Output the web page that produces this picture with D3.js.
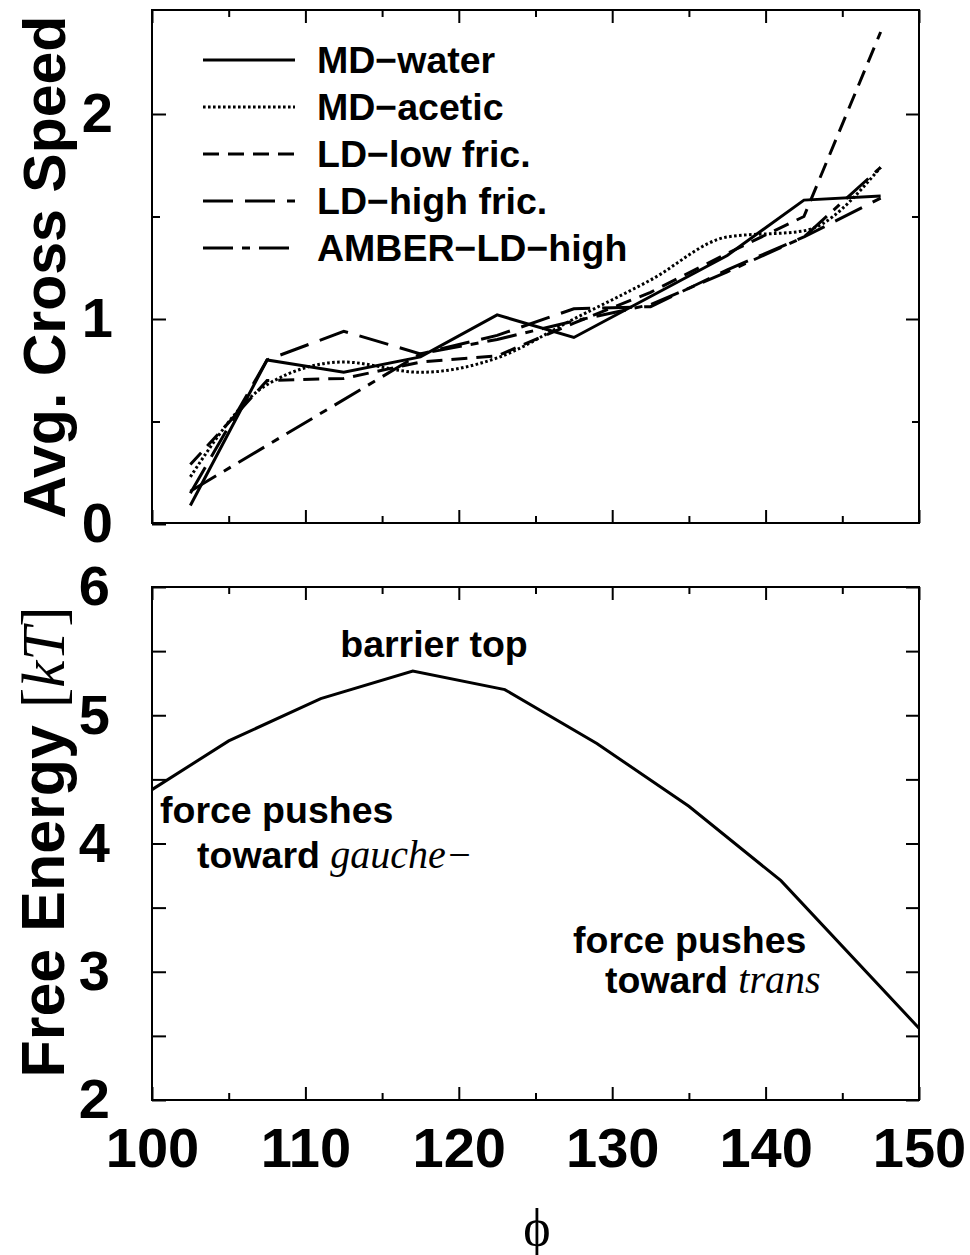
<!DOCTYPE html>
<html><head><meta charset="utf-8">
<script src="https://cdn.jsdelivr.net/npm/d3@7"></script>
<style>
body{margin:0;background:#fff;}
svg{display:block;}
</style></head>
<body>
<svg id="chart" width="970" height="1255"></svg>
<script>
// ---------- data ----------
const phiTop = [102.5,107.5,112.5,117.5,122.5,127.5,132.5,137.5,142.5,147.5];
const mdWater  = [0.09,0.80,0.74,0.815,1.02,0.91,1.11,1.31,1.58,1.60];
const mdAcetic = [0.23,0.68,0.79,0.74,0.81,1.00,1.19,1.40,1.43,1.74];
const ldLow    = [0.29,0.70,0.71,0.79,0.82,0.98,1.13,1.32,1.50,2.40];
const ldHigh   = [0.15,0.80,0.94,0.83,0.92,1.05,1.06,1.24,1.40,1.59];
const amberLD  = [0.16,null,null,0.83,0.90,0.99,1.07,1.23,1.40,1.74];
const seriesNames = ["MD\u2212water","MD\u2212acetic","LD\u2212low fric.","LD\u2212high fric.","AMBER\u2212LD\u2212high"];

const phiBot = [100,105,111,117,123,129,135,141,150];
const freeEnergy = [4.42,4.80,5.13,5.345,5.20,4.78,4.29,3.71,2.56];

const xTicksMajor = [100,110,120,130,140,150];
const xTicksMinor = [105,115,125,135,145];
const yTopMajor = [0,1,2];
const yTopMinor = [0.5,1.5];
const yBotTicks = [2,3,4,5,6];
const yBotMinor = [2.5,3.5,4.5,5.5];

// ---------- layout ----------
const L = 152, R = 919;
const topT = 10, topB = 523, botT = 587, botB = 1100;
const svg = d3.select("#chart");
svg.append("rect").attr("width",970).attr("height",1255).attr("fill","#fff");

const x = d3.scaleLinear().domain([100,150]).range([L,R]);
const yT = d3.scaleLinear().domain([0,2.5]).range([topB+1,topT+1.5]);
const yB = d3.scaleLinear().domain([2,6]).range([botB,botT]);

const SANS = "'Liberation Sans', Arial, Helvetica, sans-serif";
const SERIF = "'Liberation Serif', 'Times New Roman', serif";

function styleAxis(g){
  g.select(".domain").remove();
  g.selectAll(".tick line").attr("stroke","#000").attr("stroke-width",2);
  g.selectAll("text").attr("fill","#000").attr("font-family",SANS).attr("font-weight","bold").attr("font-size",56);
}
function ticksOnly(axis, vals, size){
  return axis.tickValues(vals).tickSize(-size).tickFormat(()=>"");
}

// ---------- top panel ----------
svg.append("g").attr("transform",`translate(0,${topB})`).call(ticksOnly(d3.axisBottom(x),xTicksMajor,13)).call(styleAxis);
svg.append("g").attr("transform",`translate(0,${topB})`).call(ticksOnly(d3.axisBottom(x),xTicksMinor,7)).call(styleAxis);
svg.append("g").attr("transform",`translate(0,${topT})`).call(ticksOnly(d3.axisTop(x),xTicksMajor,13)).call(styleAxis);
svg.append("g").attr("transform",`translate(0,${topT})`).call(ticksOnly(d3.axisTop(x),xTicksMinor,7)).call(styleAxis);
svg.append("g").attr("transform",`translate(${L},0)`)
  .call(d3.axisLeft(yT).tickValues(yTopMajor).tickSize(-14).tickPadding(39).tickFormat(d3.format("d"))).call(styleAxis);
svg.append("g").attr("transform",`translate(${L},0)`).call(ticksOnly(d3.axisLeft(yT),yTopMinor,8)).call(styleAxis);
svg.append("g").attr("transform",`translate(${R},0)`).call(ticksOnly(d3.axisRight(yT),yTopMajor.filter(v=>v>0),13)).call(styleAxis);
svg.append("g").attr("transform",`translate(${R},0)`).call(ticksOnly(d3.axisRight(yT),yTopMinor,7)).call(styleAxis);

svg.append("rect").attr("x",L).attr("y",topT).attr("width",R-L).attr("height",topB-topT)
  .attr("fill","none").attr("stroke","#000").attr("stroke-width",2);

const styles = [
  {dash:null, w:3, curve:d3.curveLinear},
  {dash:"2.6,2.4", w:3, curve:d3.curveMonotoneX},
  {dash:"16,9", w:3, curve:d3.curveLinear},
  {dash:"30,12", w:3, curve:d3.curveLinear},
  {dash:"30,9,8,9", w:3, curve:d3.curveLinear}
];
const allSeries = [mdWater, mdAcetic, ldLow, ldHigh, amberLD];

allSeries.forEach((vals,i)=>{
  const pts = phiTop.map((p,j)=>({p, v:vals[j]})).filter(d=>d.v!==null);
  const line = d3.line().x(d=>x(d.p)).y(d=>yT(d.v)).curve(styles[i].curve);
  svg.append("path").datum(pts).attr("d",line).attr("fill","none")
    .attr("stroke","#000").attr("stroke-width",styles[i].w)
    .attr("stroke-dasharray",styles[i].dash).attr("stroke-linejoin","miter");
});

// legend
const legY = [60,107,154,201,248];
seriesNames.forEach((name,i)=>{
  svg.append("line").attr("x1",203).attr("x2",295).attr("y1",legY[i]).attr("y2",legY[i])
    .attr("stroke","#000").attr("stroke-width",3).attr("stroke-dasharray",styles[i].dash);
  svg.append("text").attr("x",317).attr("y",legY[i]+13).text(name)
    .attr("font-family",SANS).attr("font-weight","bold").attr("font-size",37.5);
});

// y title top
svg.append("text").attr("transform","translate(65,267) rotate(-90)").attr("text-anchor","middle")
  .attr("font-family",SANS).attr("font-weight","bold").attr("font-size",59).text("Avg. Cross Speed");

// ---------- bottom panel ----------
svg.append("g").attr("transform",`translate(0,${botB})`)
  .call(d3.axisBottom(x).tickValues(xTicksMajor).tickSize(-13).tickPadding(27).tickFormat(d3.format("d"))).call(styleAxis);
svg.append("g").attr("transform",`translate(0,${botB})`).call(ticksOnly(d3.axisBottom(x),xTicksMinor,7)).call(styleAxis);
svg.append("g").attr("transform",`translate(0,${botT})`).call(ticksOnly(d3.axisTop(x),xTicksMajor,13)).call(styleAxis);
svg.append("g").attr("transform",`translate(0,${botT})`).call(ticksOnly(d3.axisTop(x),xTicksMinor,7)).call(styleAxis);
svg.append("g").attr("transform",`translate(${L},0)`)
  .call(d3.axisLeft(yB).tickValues(yBotTicks).tickSize(-14).tickPadding(42).tickFormat(d3.format("d"))).call(styleAxis);
svg.append("g").attr("transform",`translate(${L},0)`).call(ticksOnly(d3.axisLeft(yB),yBotMinor,14)).call(styleAxis);
svg.append("g").attr("transform",`translate(${R},0)`).call(ticksOnly(d3.axisRight(yB),yBotTicks.concat(yBotMinor),13)).call(styleAxis);

svg.append("rect").attr("x",L).attr("y",botT).attr("width",R-L).attr("height",botB-botT)
  .attr("fill","none").attr("stroke","#000").attr("stroke-width",2);

const feLine = d3.line().x((d,i)=>x(phiBot[i])).y(d=>yB(d));
svg.append("path").datum(freeEnergy).attr("d",feLine).attr("fill","none")
  .attr("stroke","#000").attr("stroke-width",3);

// annotations
function bold(t,xx,yy,anchor){
  return svg.append("text").attr("x",xx).attr("y",yy).attr("text-anchor",anchor||"start")
    .attr("font-family",SANS).attr("font-weight","bold").attr("font-size",37.5).text(t);
}
bold("barrier top",434,657,"middle");
bold("force pushes",160,823);
const t1 = svg.append("text").attr("x",197).attr("y",868).attr("font-family",SANS).attr("font-weight","bold").attr("font-size",37.5);
t1.append("tspan").text("toward ");
t1.append("tspan").attr("font-family",SERIF).attr("font-style","italic").attr("font-weight","normal").attr("font-size",40).text("gauche\u2212");
bold("force pushes",573,953);
const t2 = svg.append("text").attr("x",605).attr("y",993).attr("font-family",SANS).attr("font-weight","bold").attr("font-size",37.5);
t2.append("tspan").text("toward ");
t2.append("tspan").attr("font-family",SERIF).attr("font-style","italic").attr("font-weight","normal").attr("font-size",40).text("trans");

// y title bottom
const yt = svg.append("text").attr("transform","translate(64,842) rotate(-90)").attr("text-anchor","middle")
  .attr("font-family",SANS).attr("font-weight","bold").attr("font-size",61);
yt.append("tspan").text("Free Energy ");
yt.append("tspan").attr("font-family",SERIF).attr("font-weight","normal").text("[");
yt.append("tspan").attr("font-family",SERIF).attr("font-style","italic").attr("font-weight","normal").text("kT");
yt.append("tspan").attr("font-family",SERIF).attr("font-weight","normal").text("]");

// x title
svg.append("text").attr("x",537).attr("y",1245).attr("text-anchor","middle")
  .attr("font-family",SERIF).attr("font-size",52).text("\u03D5");
</script>
</body></html>
